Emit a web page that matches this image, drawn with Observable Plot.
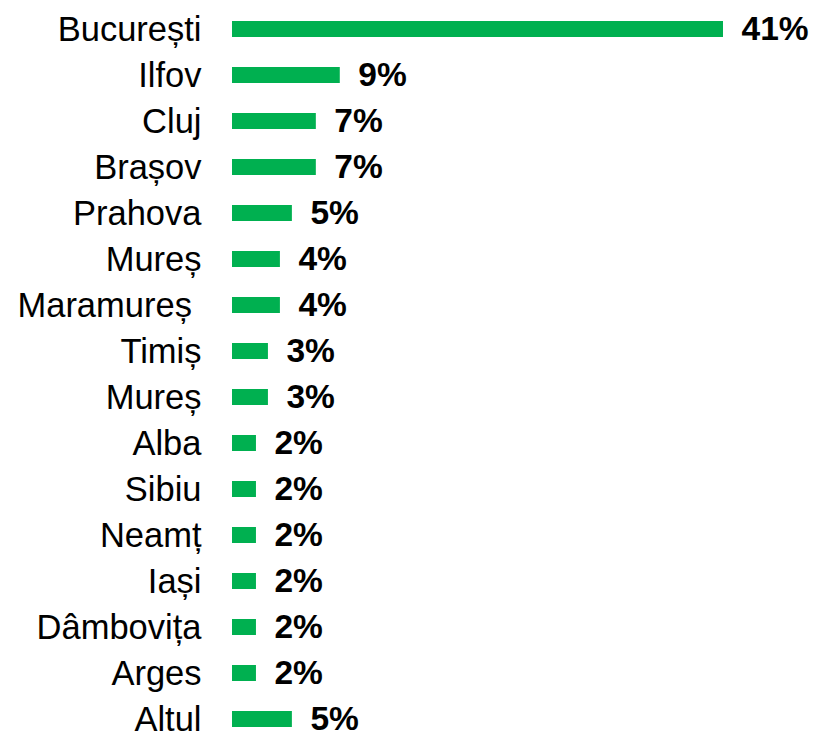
<!DOCTYPE html>
<html>
<head>
<meta charset="utf-8">
<script src="https://cdn.jsdelivr.net/npm/d3@7"></script>
<script src="https://cdn.jsdelivr.net/npm/@observablehq/plot@0.6"></script>
<style>
  html, body { margin: 0; padding: 0; background: #fff; }
  #chart svg { display: block; }
</style>
</head>
<body>
<div id="chart"></div>
<script>
const categories = ["București", "Ilfov", "Cluj", "Brașov", "Prahova", "Mureș", "Maramureș ", "Timiș", "Mureș", "Alba", "Sibiu", "Neamț", "Iași", "Dâmbovița", "Arges", "Altul"];
const values = [41, 9, 7, 7, 5, 4, 4, 3, 3, 2, 2, 2, 2, 2, 2, 5];

const data = categories.map((c, i) => ({key: String(i), name: c, value: values[i]}));

const chart = Plot.plot({
  width: 814,
  height: 736,
  marginLeft: 232,
  marginRight: 91,
  marginTop: 3,
  marginBottom: 0,
  style: {fontFamily: "Liberation Sans, Arial, sans-serif", background: "#fff"},
  x: {domain: [0, 41], axis: null},
  y: {
    domain: data.map(d => d.key),
    range: [3.87, 744.13],
    paddingInner: 0.654,
    paddingOuter: 0.327,
    label: null
  },
  marks: [
    Plot.axisY({
      tickSize: 0,
      tickPadding: 31,
      tickFormat: k => categories[+k],
      fontSize: 34.5,
      fill: "#000",
      label: null
    }),
    Plot.barX(data, {x: "value", y: "key", fill: "#00B050"}),
    Plot.ruleX([0], {stroke: "#d9d9d9", strokeWidth: 2, dx: -1, y1: 0, y2: 736}),
    Plot.text(data, {
      x: "value", y: "key",
      text: d => d.value + "%",
      textAnchor: "start",
      dx: 18,
      fontSize: 33.5,
      fontWeight: "bold",
      fill: "#000"
    })
  ]
});
document.getElementById("chart").appendChild(chart);
</script>
</body>
</html>
